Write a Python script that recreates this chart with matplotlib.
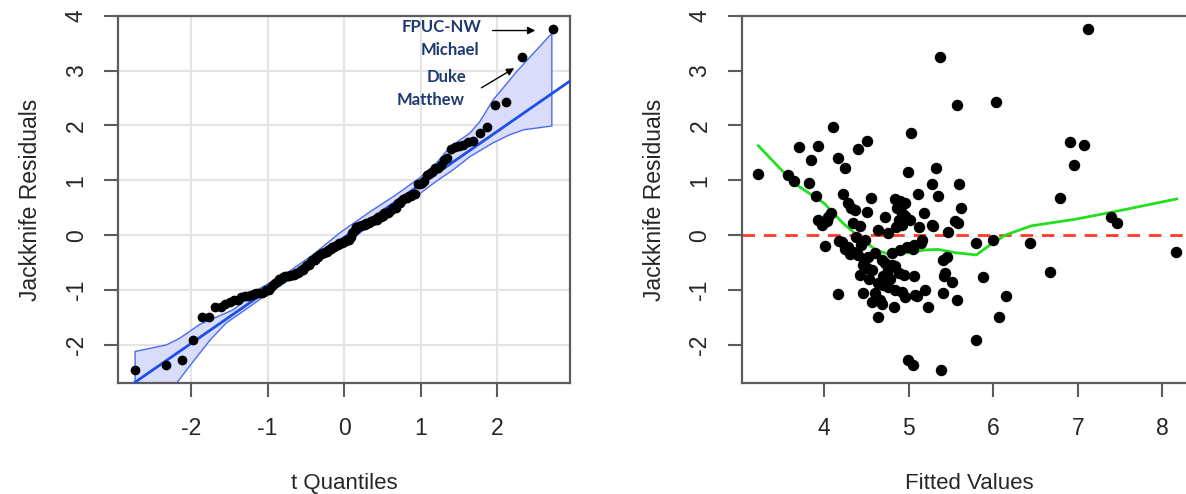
import numpy as np
import matplotlib
matplotlib.use("Agg")
import matplotlib.pyplot as plt
from statistics import NormalDist

plt.rcParams['font.family'] = ['Liberation Sans', 'DejaVu Sans']
plt.rcParams['axes.unicode_minus'] = False

# Fitted values and jackknife (studentized deleted) residuals
fitted = [
    4.10, 3.70, 3.92, 3.84, 4.16, 4.24, 4.40, 4.51, 3.22, 3.57,
    3.64, 3.82, 3.90, 4.22, 4.28, 4.32, 4.36, 4.08, 4.05, 3.93,
    3.97, 4.03, 4.34, 4.42, 4.38, 4.01, 4.21, 4.28, 4.34, 4.40,
    4.44, 4.42, 4.46, 4.16, 4.46, 5.37, 5.57, 5.03, 4.99, 5.32,
    5.27, 5.59, 5.35, 5.11, 5.62, 4.55, 4.84, 4.95, 4.50, 4.72,
    4.92, 4.88, 4.92, 5.01, 5.18, 5.12, 5.27, 5.29, 5.55, 5.58,
    4.64, 4.76, 5.47, 4.48, 4.52, 4.60, 4.56, 4.56, 4.66, 4.63,
    4.82, 4.72, 4.76, 4.74, 4.84, 4.88, 4.94, 4.64, 4.70, 4.76,
    4.84, 4.92, 4.96, 5.06, 5.07, 5.19, 5.23, 5.43, 5.42, 5.51,
    5.41, 5.57, 5.41, 5.45, 4.98, 5.06, 5.14, 5.16, 4.90, 4.80,
    5.80, 5.80, 4.99, 5.05, 5.38, 7.12, 6.03, 6.91, 7.07, 6.96,
    6.79, 7.39, 7.47, 6.00, 6.44, 8.16, 6.67, 5.88, 6.15, 6.07,
    4.18, 4.25, 4.30, 4.47, 4.50, 4.53, 4.68, 4.70, 4.78, 4.80,
    4.86, 4.90, 4.85, 4.95, 5.05, 5.10, 4.60, 4.68,
]
resid = [
    1.98, 1.60, 1.63, 1.37, 1.40, 1.22, 1.57, 1.72, 1.12, 1.10,
    0.99, 0.95, 0.72, 0.75, 0.59, 0.49, 0.45, 0.40, 0.34, 0.28,
    0.19, 0.25, 0.22, 0.16, -0.03, -0.19, -0.12, -0.21, -0.30, -0.36,
    -0.18, -0.72, -0.54, -1.08, -1.06, 3.24, 2.37, 1.87, 1.15, 1.22,
    0.93, 0.93, 0.72, 0.75, 0.49, 0.68, 0.66, 0.58, 0.43, 0.33,
    0.40, 0.28, 0.19, 0.28, 0.40, 0.15, 0.19, 0.16, 0.25, 0.22,
    0.10, 0.04, 0.05, -0.09, -0.39, -0.33, -0.63, -1.21, -1.18, -1.49,
    -1.31, -0.51, -0.63, -0.72, -0.57, -0.69, -0.72, -0.87, -0.91, -0.94,
    -1.00, -1.03, -1.12, -0.75, -1.09, -1.00, -1.31, -0.69, -0.75, -0.85,
    -1.06, -1.18, -0.45, -0.39, -0.21, -0.18, -0.15, -0.09, -0.27, -0.33,
    -0.15, -1.91, -2.27, -2.36, -2.45, 3.75, 2.43, 1.69, 1.64, 1.28,
    0.68, 0.34, 0.22, -0.09, -0.15, -0.30, -0.67, -0.77, -1.11, -1.49,
    -0.10, -0.25, -0.35, -0.45, -0.60, -0.80, -0.45, -0.75, -0.80, -0.55,
    0.50, 0.62, 0.15, 0.35, -0.25, -1.10, -1.05, -1.25,
]

# Lowess smooth of residuals on fitted values
smooth_fitted = [3.22, 3.64, 4.00, 4.22, 4.44, 4.62, 4.80, 4.99, 5.19, 5.35,
                 5.55, 5.80, 5.96, 6.14, 6.45, 6.97, 7.44, 8.17]
smooth_resid = [1.63, 0.95, 0.58, 0.22, -0.07, -0.28, -0.36, -0.32, -0.27, -0.26,
                -0.32, -0.36, -0.18, 0.00, 0.17, 0.29, 0.43, 0.66]

# Simulated 95% envelope for the QQ plot
env_upper_t = [-2.73, -2.32, -2.15, -1.89, -1.45, -1.10, -0.75, -0.41, -0.06, 0.33,
               0.68, 0.99, 1.20, 1.38, 1.64, 1.77, 1.94, 2.25, 2.71]
env_upper_r = [-2.12, -2.00, -1.88, -1.63, -1.36, -0.97, -0.69, -0.36, 0.04, 0.42,
               0.74, 1.05, 1.31, 1.61, 1.86, 2.07, 2.46, 2.98, 3.68]
env_lower_t = [-2.73, -2.19, -2.02, -1.75, -1.54, -1.23, -0.93, -0.58, -0.23, 0.12,
               0.33, 0.68, 0.99, 1.20, 1.42, 1.64, 1.94, 2.16, 2.34, 2.71]
env_lower_r = [-3.40, -2.70, -2.39, -1.91, -1.60, -1.30, -1.00, -0.70, -0.38, -0.05,
               0.17, 0.48, 0.76, 0.98, 1.19, 1.43, 1.68, 1.83, 1.92, 1.99]

# Reference line of the QQ plot
line_intercept = -0.04
line_slope = 0.967

# Labelled observations
point_labels = ["FPUC-NW", "Michael", "Duke", "Matthew"]
label_t = [1.27, 1.38, 1.34, 1.13]
label_r = [3.80, 3.37, 2.89, 2.46]

y_ticks = [-2, -1, 0, 1, 2, 3, 4]
qq_x_ticks = [-2, -1, 0, 1, 2]
fit_x_ticks = [4, 5, 6, 7, 8]


def t_quantile(p, df):
    """Student t quantile via the Cornish-Fisher expansion of the normal quantile."""
    z = NormalDist().inv_cdf(p)
    g1 = (z**3 + z) / 4
    g2 = (5 * z**5 + 16 * z**3 + 3 * z) / 96
    g3 = (3 * z**7 + 19 * z**5 + 17 * z**3 - 15 * z) / 384
    g4 = (79 * z**9 + 776 * z**7 + 1482 * z**5 - 1920 * z**3 - 945 * z) / 92160
    return z + g1 / df + g2 / df**2 + g3 / df**3 + g4 / df**4


n = len(resid)
probs = (np.arange(1, n + 1) - 0.5) / n
t_q = np.array([t_quantile(p, n - 6) for p in probs])
r_sorted = np.sort(resid)

SPINE = '#5c5c5c'
TEXT = '#262626'

fig = plt.figure(figsize=(11.86, 4.94), dpi=100)
ax1 = fig.add_axes([0.0997, 0.2241, 0.3811, 0.7441])
ax2 = fig.add_axes([0.6256, 0.2241, 0.3829, 0.7441])

# ---- QQ plot ----
ax1.set_axisbelow(True)
ax1.grid(True, color='#e4e4e4', lw=1.6)
poly_t = list(env_upper_t) + list(env_lower_t[::-1])
poly_r = list(env_upper_r) + list(env_lower_r[::-1])
ax1.fill(poly_t, poly_r, facecolor='#d9dcfa', edgecolor='#4a6cf0', lw=1.0, zorder=2)
xl = np.array([-3.2, 3.2])
ax1.plot(xl, line_intercept + line_slope * xl, color='#1f4fe8', lw=2.0, zorder=3)
ax1.plot(t_q, r_sorted, 'o', color='black', ms=6.0, zorder=4)

for s, tx, ty in zip(point_labels, label_t, label_r):
    ax1.text(tx, ty, s, color='#1f3a6e', fontweight='bold', family=['Lato', 'DejaVu Sans'],
             fontsize=12, ha='center', va='center', zorder=5)
ax1.annotate('', xy=(2.53, 3.73), xytext=(1.90, 3.73),
             arrowprops=dict(arrowstyle='-|>', color='black', lw=1.0, mutation_scale=11))
ax1.annotate('', xy=(2.25, 3.07), xytext=(1.76, 2.66),
             arrowprops=dict(arrowstyle='-|>', color='black', lw=1.0, mutation_scale=11))

ax1.set_xlim(-2.95, 2.95)
ax1.set_ylim(-2.70, 4.0)
ax1.set_xticks(qq_x_ticks)
ax1.set_yticks(y_ticks)
ax1.set_xlabel('t Quantiles', fontsize=16, color=TEXT, labelpad=24)
ax1.set_ylabel('Jackknife Residuals', fontsize=16.5, color=TEXT, labelpad=16)

# ---- Residuals vs fitted ----
ax2.axhline(0, color='#ff3a2a', lw=2.0, ls=(0, (4.5, 3.2)), zorder=1)
ax2.plot(smooth_fitted, smooth_resid, color='#22e01e', lw=2.0, zorder=2)
ax2.scatter(fitted, resid, s=68, color='black', zorder=3, linewidths=0)
ax2.set_xlim(3.026, 8.4)
ax2.set_ylim(-2.70, 4.0)
ax2.set_xticks(fit_x_ticks)
ax2.set_yticks(y_ticks)
ax2.set_xlabel('Fitted Values', fontsize=16, color=TEXT, labelpad=24)
ax2.set_ylabel('Jackknife Residuals', fontsize=16.5, color=TEXT, labelpad=16)

for ax in (ax1, ax2):
    for sp in ax.spines.values():
        sp.set_color(SPINE)
        sp.set_linewidth(1.6)
    ax.tick_params(axis='both', length=10, width=1.5, color=SPINE,
                   labelsize=16.5, labelcolor=TEXT)
    ax.tick_params(axis='x', pad=14)
    ax.tick_params(axis='y', pad=12)
    for lab in ax.get_yticklabels():
        lab.set_rotation(90)
        lab.set_va('center')

fig.savefig('out.png', dpi=100)
